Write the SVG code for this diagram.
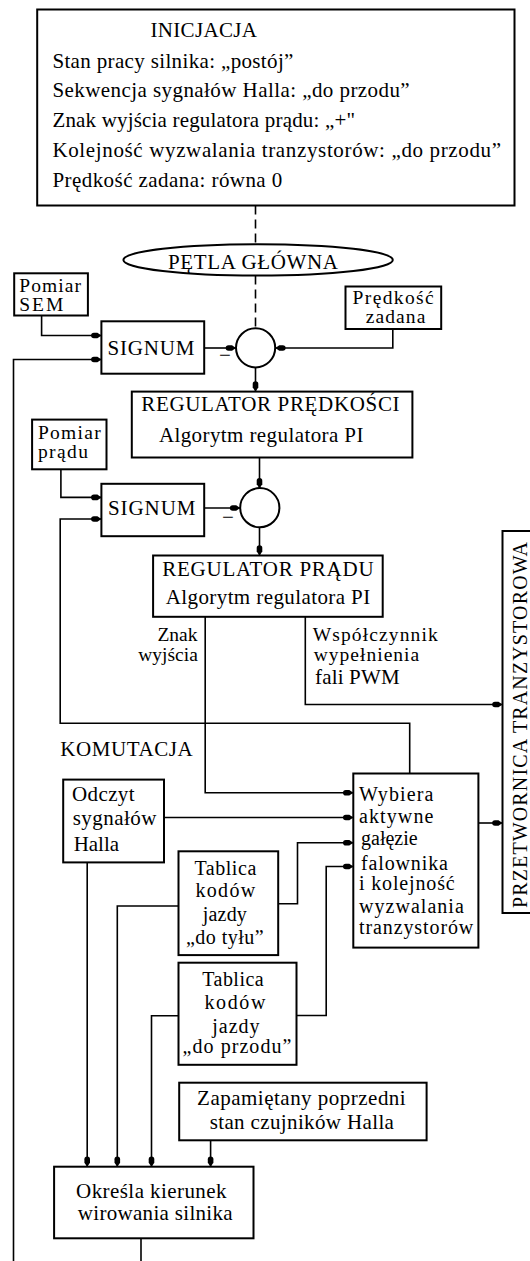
<svg xmlns="http://www.w3.org/2000/svg" width="530" height="1261" viewBox="0 0 530 1261">
<style>
text{font-family:"Liberation Serif","Times New Roman",serif;font-size:21px;fill:#000}
text.s{font-size:19.5px}
text.t{font-size:20px}
.box{fill:#fff;stroke:#000;stroke-width:2}
.ln{fill:none;stroke:#000;stroke-width:1.6}
.ar{marker-end:url(#ah)}
.dash{fill:none;stroke:#000;stroke-width:1.6;stroke-dasharray:9 5}
.m{text-anchor:middle}
</style>
<defs>
<marker id="ah" markerUnits="userSpaceOnUse" markerWidth="12" markerHeight="8" viewBox="-11 -4 12 8" refX="0" refY="0" orient="auto">
<path d="M0,0 L-4,-2.8 L-7.5,-2.8 A2.8,2.8 0 0 0 -7.5,2.8 L-4,2.8 Z" fill="#000"/>
</marker>
</defs>
<rect width="530" height="1261" fill="#fff"/>

<g id="connectors">
<path class="dash" d="M255.5,205.5 V244.2"/>
<path class="dash" d="M255.5,275.6 V328.5"/>
<path class="ln ar" d="M41.6,315.5 V335.5 H101.4"/>
<path class="ln ar" d="M13.5,1261 V359.5 H101.4"/>
<path class="ln ar" d="M204.2,348 H236"/>
<path class="ln ar" d="M392.8,329 V348 H275.3"/>
<path class="ln ar" d="M255.5,367.2 V391.6"/>
<path class="ln ar" d="M259.5,457.5 V488.3"/>
<path class="ln ar" d="M60.9,469.3 V497.4 H101.4"/>
<path class="ln ar" d="M409.7,773.5 V723.3 H60.2 V519 H101.4"/>
<path class="ln ar" d="M204.2,508 H240.2"/>
<path class="ln ar" d="M259.5,527.3 V555.5"/>
<path class="ln ar" d="M205.2,616.8 V792.8 H353.3"/>
<path class="ln ar" d="M305.3,616.8 V704.5 H502.5"/>
<path class="ln ar" d="M164,817.5 H353.3"/>
<path class="ln ar" d="M278.2,903.7 H297.5 V842.8 H353.3"/>
<path class="ln ar" d="M296.5,1015.5 H326.2 V866.5 H353.3"/>
<path class="ln ar" d="M478.4,823 H502.5"/>
<path class="ln ar" d="M87.2,862.4 V1166.7"/>
<path class="ln ar" d="M178.5,906 H117.3 V1166.7"/>
<path class="ln ar" d="M178.5,1015.8 H151.5 V1166.7"/>
<path class="ln ar" d="M210.6,1140.3 V1166.7"/>
<path class="ln" d="M141,1238.3 V1261"/>
</g>

<g id="inicjacja">
<rect class="box" x="37.2" y="9.5" width="477.3" height="196"/>
<text x="150.4" y="37" textLength="106.6">INICJACJA</text>
<text x="52.4" y="67.6" textLength="241">Stan pracy silnika: „postój”</text>
<text x="52.4" y="97.4" textLength="357.3">Sekwencja sygnałów Halla: „do przodu”</text>
<text x="52.4" y="126.8" textLength="302.6">Znak wyjścia regulatora prądu: „+"</text>
<text x="52.4" y="157.2" textLength="448.6">Kolejność wyzwalania tranzystorów: „do przodu”</text>
<text x="52.4" y="186.6" textLength="229.9">Prędkość zadana: równa 0</text>
</g>

<g id="petla">
<ellipse class="box" cx="258.1" cy="259.9" rx="134.7" ry="15.7"/>
<text x="168" y="268.9" textLength="170">PĘTLA GŁÓWNA</text>
</g>

<g id="pomiar-sem">
<rect class="box" x="14.2" y="273.3" width="73.7" height="42.2"/>
<text class="s" x="19.3" y="291.5" textLength="61.7">Pomiar</text>
<text class="s" x="19.3" y="311" textLength="44">SEM</text>
</g>

<g id="signum1">
<rect class="box" x="101.4" y="321.3" width="102.8" height="52.4"/>
<text x="107.5" y="355" textLength="87">SIGNUM</text>
</g>

<g id="sum1">
<circle class="box" cx="255.6" cy="347.8" r="19.6"/>
<text class="m" x="225" y="361.5">−</text>
</g>

<g id="predkosc-zadana">
<rect class="box" x="345.5" y="286.5" width="95.7" height="42.5"/>
<text class="s" x="352.6" y="304.4" textLength="81">Prędkość</text>
<text class="s" x="365.8" y="323" textLength="59.5">zadana</text>
</g>

<g id="regulator-predkosci">
<rect class="box" x="131.8" y="391.6" width="280.6" height="65.9"/>
<text x="141.3" y="411" textLength="258.3">REGULATOR PRĘDKOŚCI</text>
<text x="158.9" y="442.3" textLength="204.5">Algorytm regulatora PI</text>
</g>

<g id="pomiar-pradu">
<rect class="box" x="32.1" y="419.6" width="74.4" height="49.7"/>
<text class="s" x="37.9" y="438.9" textLength="62.8">Pomiar</text>
<text class="s" x="37.9" y="457.5" textLength="50">prądu</text>
</g>

<g id="signum2">
<rect class="box" x="101.4" y="483.8" width="102.8" height="52.4"/>
<text x="108" y="515" textLength="87.4">SIGNUM</text>
</g>

<g id="sum2">
<circle class="box" cx="259.8" cy="507.7" r="19.6"/>
<text class="m" x="228" y="523.8">−</text>
</g>

<g id="regulator-pradu">
<rect class="box" x="153.1" y="555.5" width="229.6" height="61.3"/>
<text x="162.3" y="576.2" textLength="211.3">REGULATOR PRĄDU</text>
<text x="165.7" y="604" textLength="204.5">Algorytm regulatora PI</text>
</g>

<g id="labels">
<text class="s" x="197.5" y="641.1" text-anchor="end">Znak</text>
<text class="s" x="197.8" y="660.7" text-anchor="end">wyjścia</text>
<text class="s" x="312.7" y="641.1" textLength="125.1">Współczynnik</text>
<text class="s" x="313.7" y="660.7" textLength="105.5">wypełnienia</text>
<text x="315" y="684.4" textLength="84.6">fali PWM</text>
<text x="60.2" y="756" textLength="132.5">KOMUTACJA</text>
</g>

<g id="przetwornica">
<rect class="box" x="502.5" y="531" width="40" height="382"/>
<text class="m" transform="translate(527 725) rotate(-90)" textLength="366" lengthAdjust="spacing" style="font-size:20px">PRZETWORNICA TRANZYSTOROWA</text>
</g>

<g id="wybiera">
<rect class="box" x="353.3" y="773.5" width="125.1" height="174.1"/>
<text class="t" x="359" y="800.6" textLength="74.4">Wybiera</text>
<text class="t" x="359" y="822.9" textLength="74.4">aktywne</text>
<text class="t" x="361" y="845.1">gałęzie</text>
<text class="t" x="361" y="869.9" textLength="86.9">falownika</text>
<text class="t" x="359" y="890.2" textLength="95.7">i kolejność</text>
<text class="t" x="359" y="912.8" textLength="104.8">wyzwalania</text>
<text class="t" x="359" y="934.1" textLength="114.3">tranzystorów</text>
</g>

<g id="odczyt">
<rect class="box" x="63.2" y="779.6" width="100.8" height="82.8"/>
<text x="72" y="801.2" textLength="62.6">Odczyt</text>
<text x="72.7" y="824.9" textLength="83.8">sygnałów</text>
<text x="73.7" y="851.3" textLength="45.3">Halla</text>
</g>

<g id="tablica-tyl">
<rect class="box" x="178.5" y="851.3" width="99.7" height="103.8"/>
<text class="t" x="194.4" y="875" textLength="61.9">Tablica</text>
<text class="t" x="195.4" y="897" textLength="59.8">kodów</text>
<text class="t" x="202.8" y="920.6" textLength="44">jazdy</text>
<text class="t" x="186" y="944" textLength="77.7">„do tyłu”</text>
</g>

<g id="tablica-przod">
<rect class="box" x="178.5" y="962.7" width="118" height="102.1"/>
<text class="t" x="202.2" y="986.4" textLength="61.5">Tablica</text>
<text class="t" x="204.5" y="1009" textLength="60.9">kodów</text>
<text class="t" x="212.3" y="1032.7" textLength="47.3">jazdy</text>
<text class="t" x="182.6" y="1053" textLength="108.8">„do przodu”</text>
</g>

<g id="zapamietany">
<rect class="box" x="179.2" y="1082.7" width="247.4" height="57.6"/>
<text class="m" x="301.4" y="1105.4" textLength="208.6">Zapamiętany poprzedni</text>
<text class="m" x="301.8" y="1128.5" textLength="184.3">stan czujników Halla</text>
</g>

<g id="okresla">
<rect class="box" x="54.1" y="1166.7" width="199.4" height="71.6"/>
<text class="m" x="151.3" y="1198.4" textLength="150.5">Określa kierunek</text>
<text class="m" x="155.2" y="1220.4" textLength="154.8">wirowania silnika</text>
</g>
</svg>
